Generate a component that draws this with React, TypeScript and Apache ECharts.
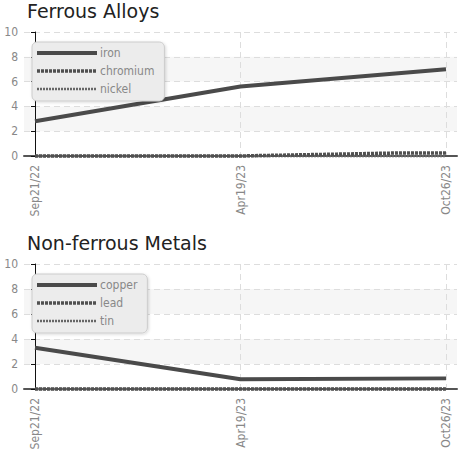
import React, { useEffect, useRef } from "react";
import * as echarts from "echarts";

const dateLabels = ["Sep21/22", "Apr19/23", "Oct26/23"];
const datePositions = [0, 1, 2];

const ironValues = [2.8, 5.6, 7.0];
const chromiumPoints: [number, number][] = [[0, 0], [1, 0], [1.14, 0.05], [1.47, 0.15], [1.79, 0.25], [2, 0.25]];
const nickelValues = [0, 0, 0];

const copperValues = [3.3, 0.78, 0.85];
const leadValues = [0, 0, 0];
const tinValues = [0, 0, 0];

const yTicks = { min: 0, max: 10, interval: 2 };

const titles = ["Ferrous Alloys", "Non-ferrous Metals"];
const groupNames = [["iron", "chromium", "nickel"], ["copper", "lead", "tin"]];

const LABEL_FONT = "DejaVu Sans Condensed";

function pairs(values: number[]): [number, number][] {
  return values.map((v, i) => [datePositions[i], v]);
}

export default function App() {
  const ref = useRef<HTMLDivElement>(null);
  useEffect(() => {
    if (!ref.current) return;
    const chart = echarts.init(ref.current, null, { renderer: "svg" });
    const grids = [
      { left: 24, width: 433, top: 32, height: 124, containLabel: false, outerBoundsMode: "none" },
      { left: 24, width: 433, top: 264, height: 125, containLabel: false, outerBoundsMode: "none" },
    ];
    const pxPerUnit = (433 - 22) / 2;
    const pad = 11 / pxPerUnit;

    const xAxes = grids.map((_, gi) => ({
      type: "value",
      gridIndex: gi,
      min: -pad,
      max: 2 + pad,
      axisLine: { show: true, onZero: false, lineStyle: { color: "#555", width: 2 } },
      axisTick: { show: false, customValues: datePositions },
      axisLabel: {
        customValues: datePositions,
        rotate: 90,
        color: "#888",
        fontFamily: LABEL_FONT,
        fontSize: 12,
        margin: 9,
        formatter: (v: number) => dateLabels[Math.round(v)] ?? "",
      },
      splitLine: { show: true, lineStyle: { color: "#ddd", type: [6, 4], width: 1 } },
    }));

    const yAxes = grids.map((_, gi) => ({
      type: "value",
      gridIndex: gi,
      min: yTicks.min,
      max: yTicks.max,
      interval: yTicks.interval,
      axisLine: { show: true, lineStyle: { color: "#111", width: 1 } },
      axisTick: { show: true, length: 4, lineStyle: { color: "#111" } },
      axisLabel: { color: "#888", fontFamily: LABEL_FONT, fontSize: 12, margin: 6 },
      splitLine: { show: true, lineStyle: { color: "#ddd", type: [6, 4], width: 1 } },
      splitArea: { show: true, areaStyle: { color: ["rgba(255,255,255,0)", "#f6f6f6"] } },
    }));

    const solid = { color: "#4a4a4a", width: 4, type: "solid" };
    const dashed = { color: "#505050", width: 3.5, type: [3, 1] };
    const dotted = { color: "#666", width: 2.5, type: [2, 1] };
    const styles = [solid, dashed, dotted];

    const mk = (name: string, data: [number, number][], gi: number, si: number, z: number) => ({
      type: "line",
      name,
      xAxisIndex: gi,
      yAxisIndex: gi,
      data,
      symbol: "none",
      clip: false,
      lineStyle: styles[si],
      itemStyle: { color: styles[si].color },
      z,
    });

    const series = [
      mk(groupNames[0][0], pairs(ironValues), 0, 0, 3),
      mk(groupNames[0][1], chromiumPoints, 0, 1, 4),
      mk(groupNames[0][2], pairs(nickelValues), 0, 2, 2),
      mk(groupNames[1][0], pairs(copperValues), 1, 0, 3),
      mk(groupNames[1][1], pairs(leadValues), 1, 1, 4),
      mk(groupNames[1][2], pairs(tinValues), 1, 2, 2),
    ];

    const legendTops = [42, 274];
    const legends = groupNames.map((names, gi) => ({
      orient: "vertical",
      left: 32,
      top: legendTops[gi],
      data: names.map((n, i) => ({
        name: n,
        lineStyle: { width: styles[i].width, type: styles[i].type, color: styles[i].color },
      })),
      itemWidth: 60,
      itemHeight: 14,
      itemGap: 6,
      padding: [5, 10, 6, 3],
      backgroundColor: "#ececec",
      borderColor: "#ccc",
      borderWidth: 1,
      borderRadius: 5,
      shadowBlur: 3,
      shadowColor: "rgba(0,0,0,0.15)",
      shadowOffsetX: 1,
      shadowOffsetY: 1,
      textStyle: { color: "#888", fontFamily: LABEL_FONT, fontSize: 12, padding: [0, 0, 0, -2] },
      itemStyle: { opacity: 0 },
      lineStyle: { width: "inherit", type: "inherit", color: "inherit" },
    }));

    chart.setOption({
      animation: false,
      backgroundColor: "#fff",
      title: titles.map((t, i) => ({
        text: t,
        left: 27,
        top: i === 0 ? 1 : 233,
        padding: 0,
        textStyle: { fontFamily: "DejaVu Sans", fontSize: 19, fontWeight: "normal", color: "#222" },
      })),
      grid: grids,
      xAxis: xAxes,
      yAxis: yAxes,
      legend: legends,
      series,
    });
    return () => chart.dispose();
  }, []);
  return (
    <div
      ref={ref}
      style={{ position: "absolute", left: 0, top: 0, width: 461, height: 454 }}
    />
  );
}
